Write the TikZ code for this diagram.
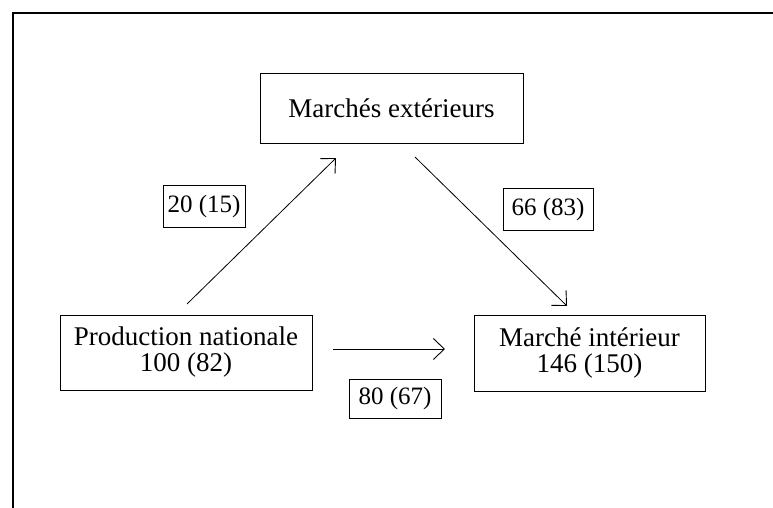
\documentclass[tikz,border=0pt]{standalone}
\usepackage{fontspec}
\setmainfont{Liberation Serif}
\usetikzlibrary{arrows.meta}
\begin{document}
\begin{tikzpicture}[x=1pt,y=-1pt,
  box/.style={draw, line width=0.9pt, inner sep=0pt, align=center,
    font=\fontsize{27}{26}\selectfont},
  lab/.style={draw, line width=0.7pt, inner sep=0pt,
    font=\fontsize{25}{27}\selectfont},
  flow/.style={line width=0.8pt, -{Straight Barb[length=11pt,width=21pt,line width=0.9pt]}}]
\useasboundingbox (0,0) rectangle (773,508);
\draw[line width=1.4pt] (13,508) -- (13,13) -- (773,13);
\node[box, minimum width=263pt, minimum height=70pt] (ext) at (391.5,108) {Marchés extérieurs};
\node[box, minimum width=252pt, minimum height=75pt] (prod) at (186,352.5) {Production nationale\\100 (82)};
\node[box, minimum width=231pt, minimum height=76pt] (int) at (589.5,353) {Marché intérieur\\146 (150)};
\node[lab, minimum width=82pt, minimum height=42pt] (l1) at (204,206) {20 (15)};
\node[lab, minimum width=90pt, minimum height=42pt] (l2) at (548,209) {66 (83)};
\node[lab, minimum width=92pt, minimum height=39pt] (l3) at (395,398.5) {80 (67)};
\coordinate (a1s) at (187,304);
\coordinate (a1e) at (336,158);
\coordinate (a2s) at (415,157);
\coordinate (a2e) at (567,306);
\coordinate (a3s) at (333,349);
\coordinate (a3e) at (445,349);
\draw[flow] (a1s) -- (a1e);
\draw[flow] (a2s) -- (a2e);
\draw[flow] (a3s) -- (a3e);
\end{tikzpicture}
\end{document}
